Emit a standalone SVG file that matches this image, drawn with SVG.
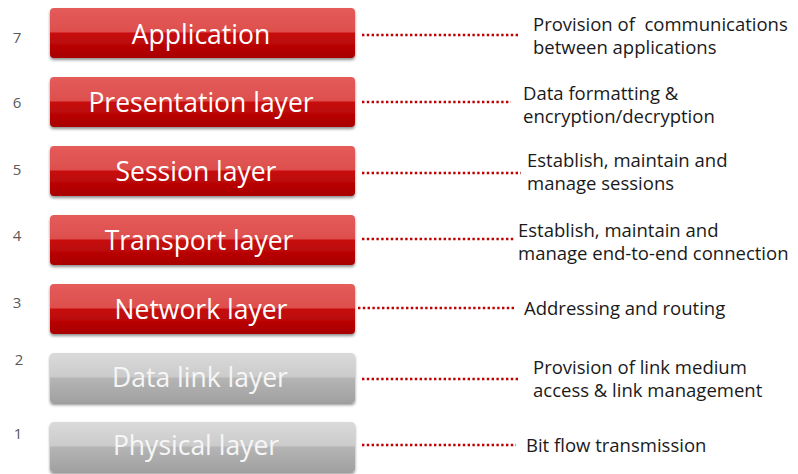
<svg xmlns="http://www.w3.org/2000/svg" width="798" height="474" viewBox="0 0 798 474">
<defs>
<linearGradient id="red" x1="0" y1="0" x2="0" y2="1">
<stop offset="0" stop-color="#e45c5a"/>
<stop offset="0.48" stop-color="#dd4f4d"/>
<stop offset="0.5" stop-color="#c80a0a"/>
<stop offset="1" stop-color="#a80202"/>
</linearGradient>
<linearGradient id="gray" x1="0" y1="0" x2="0" y2="1">
<stop offset="0" stop-color="#dadada"/>
<stop offset="0.48" stop-color="#cbcbcb"/>
<stop offset="0.5" stop-color="#b5b5b5"/>
<stop offset="1" stop-color="#a0a0a0"/>
</linearGradient>
<filter id="sh" x="-5%" y="-20%" width="110%" height="150%">
<feGaussianBlur in="SourceAlpha" stdDeviation="1.5"/>
<feOffset dy="2" result="b"/>
<feComponentTransfer><feFuncA type="linear" slope="0.45"/></feComponentTransfer>
<feMerge><feMergeNode/><feMergeNode in="SourceGraphic"/></feMerge>
</filter>
</defs>
<style>
.box{filter:url(#sh)}
.r{fill:url(#red)}
.g{fill:url(#gray)}
.t{font-family:"Open Sans","Noto Sans",sans-serif;font-size:26.5px;fill:#fff;text-anchor:middle}
.tg{fill:#f6f6f6}
.n{font-family:"Open Sans","Noto Sans",sans-serif;font-size:15px;fill:#595959;text-anchor:middle}
.d{font-family:"Open Sans","Noto Sans",sans-serif;font-size:18.5px;fill:#1a1a1a;white-space:pre}
.c{stroke:#c00000;stroke-width:2.4;stroke-dasharray:2.4 2.4;fill:none}
</style>
<g id="layer7">
<rect class="box r" x="50" y="8" width="305" height="50" rx="4"/>
<text class="t" x="201" y="44">Application</text>
<text class="n" x="17" y="43">7</text>
</g>
<g id="layer6">
<rect class="box r" x="50" y="77" width="305" height="50" rx="4"/>
<text class="t" x="201" y="112">Presentation layer</text>
<text class="n" x="17" y="108">6</text>
</g>
<g id="layer5">
<rect class="box r" x="50" y="146" width="305" height="50" rx="4"/>
<text class="t" x="196" y="181">Session layer</text>
<text class="n" x="17" y="175">5</text>
</g>
<g id="layer4">
<rect class="box r" x="50" y="215" width="305" height="50" rx="4"/>
<text class="t" x="199" y="250">Transport layer</text>
<text class="n" x="17" y="241">4</text>
</g>
<g id="layer3">
<rect class="box r" x="50" y="284" width="305" height="50" rx="4"/>
<text class="t" x="201" y="319">Network layer</text>
<text class="n" x="17" y="308">3</text>
</g>
<g id="layer2">
<rect class="box g" x="50" y="353" width="305" height="50" rx="4"/>
<text class="t tg" x="200" y="387">Data link layer</text>
<text class="n" x="19" y="365">2</text>
</g>
<g id="layer1">
<rect class="box g" x="50" y="422" width="305" height="50" rx="4"/>
<text class="t tg" x="196" y="455">Physical layer</text>
<text class="n" x="18" y="439">1</text>
</g>
<g id="connectors">
<line class="c" x1="362" y1="35" x2="518" y2="35"/>
<line class="c" x1="362" y1="102" x2="511" y2="102"/>
<line class="c" x1="362" y1="173" x2="521" y2="173"/>
<line class="c" x1="362" y1="239" x2="515" y2="239"/>
<line class="c" x1="358" y1="308" x2="514" y2="308"/>
<line class="c" x1="362" y1="379" x2="520" y2="379"/>
<line class="c" x1="362" y1="445" x2="516" y2="445"/>
</g>
<g id="descriptions">
<text class="d" x="533" y="31" xml:space="preserve">Provision of  communications</text>
<text class="d" x="533" y="54">between applications</text>
<text class="d" x="523" y="100">Data formatting &amp;</text>
<text class="d" x="523" y="123">encryption/decryption</text>
<text class="d" x="527" y="167">Establish, maintain and</text>
<text class="d" x="527" y="190">manage sessions</text>
<text class="d" x="518" y="237">Establish, maintain and</text>
<text class="d" x="518" y="260">manage end-to-end connection</text>
<text class="d" x="524" y="315">Addressing and routing</text>
<text class="d" x="533" y="374">Provision of link medium</text>
<text class="d" x="533" y="397">access &amp; link management</text>
<text class="d" x="526" y="452">Bit flow transmission</text>
</g>
</svg>
